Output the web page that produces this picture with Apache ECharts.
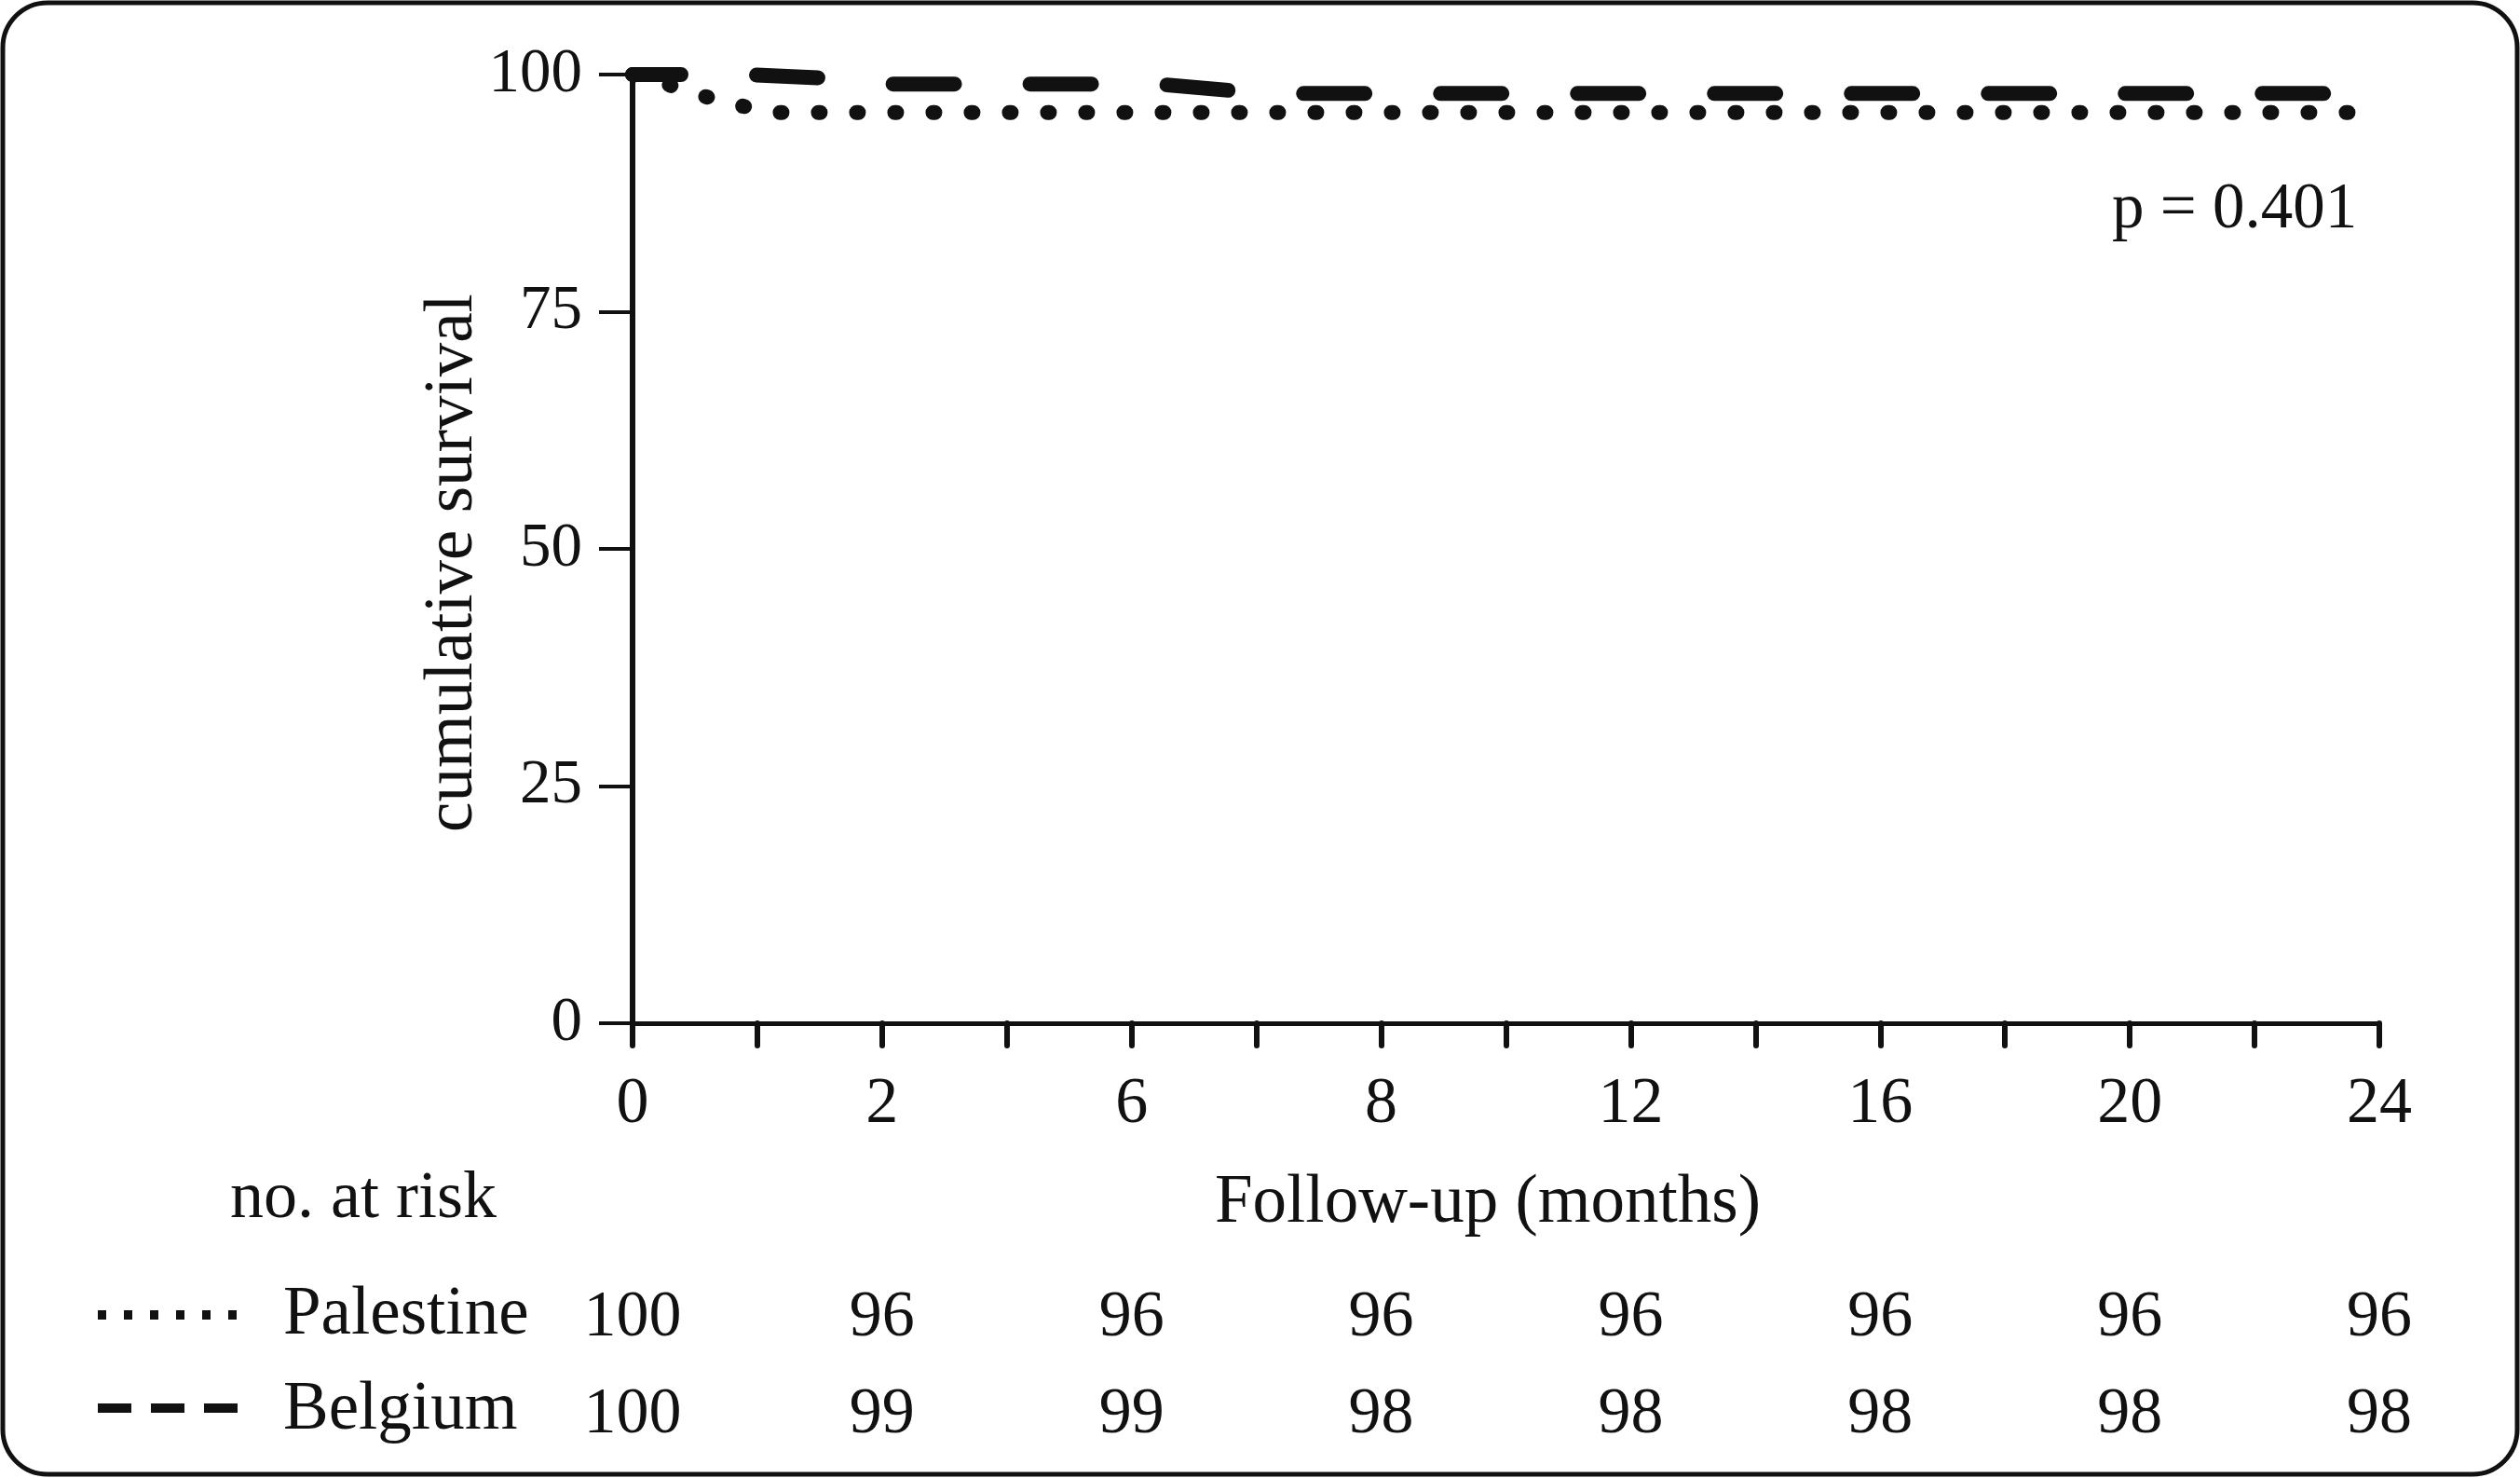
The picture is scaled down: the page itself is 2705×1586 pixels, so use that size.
<!DOCTYPE html>
<html>
<head>
<meta charset="utf-8">
<script src="https://cdn.jsdelivr.net/npm/echarts@6/dist/echarts.min.js"></script>
<style>
  html, body { margin: 0; padding: 0; background: #fff; }
  #main { width: 2705px; height: 1586px; }
</style>
</head>
<body>
<div id="main"></div>
<script>
// x positions are in tick units (15 ticks, labels on every other one)
var xLabels = ['0', '2', '6', '8', '12', '16', '20', '24'];
var yTicks = [0, 25, 50, 75, 100];

var palestineX = [0, 0.27, 0.55, 0.84, 1.11, 14];
var palestineY = [100, 99.0, 97.8, 96.8, 96, 96];
var belgiumX = [0, 0.9, 1.6, 2.05, 4.2, 4.9, 5.3, 14];
var belgiumY = [100, 100, 99.6, 99, 99, 98.2, 98, 98];

var atRiskPalestine = [100, 96, 96, 96, 96, 96, 96, 96];
var atRiskBelgium = [100, 99, 99, 98, 98, 98, 98, 98];

var FONT = 'Liberation Serif';
var INK = '#111';

function pairs(xs, ys) {
	var out = [];
	for (var i = 0; i < xs.length; i++) out.push([xs[i], ys[i]]);
	return out;
}

function majorLabel(arr) {
	return function (value) {
		return value % 2 === 0 ? String(arr[value / 2]) : '';
	};
}

var myChart = echarts.init(document.getElementById('main'));

var option = {
	animation: false,
	backgroundColor: '#fff',
	grid: {
		left: 679,
		top: 80,
		width: 1875,
		height: 1018,
		outerBoundsMode: 'none'
	},
	xAxis: [
		{
			type: 'value',
			min: 0,
			max: 14,
			interval: 1,
			splitLine: { show: false },
			axisLine: { lineStyle: { color: INK, width: 5 } },
			axisTick: { length: 24, lineStyle: { color: INK, width: 6, cap: 'round' } },
			axisLabel: {
				margin: 53,
				color: INK,
				fontFamily: FONT,
				fontSize: 70,
				formatter: majorLabel(xLabels)
			}
		},
		{
			// no. at risk, Palestine row
			type: 'value',
			min: 0,
			max: 14,
			interval: 1,
			position: 'bottom',
			offset: 282,
			splitLine: { show: false },
			axisLine: { show: false },
			axisTick: { show: false },
			axisLabel: {
				margin: 0,
				color: INK,
				fontFamily: FONT,
				fontSize: 70,
				formatter: majorLabel(atRiskPalestine)
			}
		},
		{
			// no. at risk, Belgium row
			type: 'value',
			min: 0,
			max: 14,
			interval: 1,
			position: 'bottom',
			offset: 386,
			splitLine: { show: false },
			axisLine: { show: false },
			axisTick: { show: false },
			axisLabel: {
				margin: 0,
				color: INK,
				fontFamily: FONT,
				fontSize: 70,
				formatter: majorLabel(atRiskBelgium)
			}
		}
	],
	yAxis: {
		type: 'value',
		min: yTicks[0],
		max: yTicks[yTicks.length - 1],
		interval: 25,
		splitLine: { show: false },
		axisLine: { show: true, lineStyle: { color: INK, width: 6 } },
		axisTick: { show: true, length: 36, lineStyle: { color: INK, width: 4 } },
		axisLabel: {
			margin: 54,
			color: INK,
			fontFamily: FONT,
			fontSize: 67
		}
	},
	series: [
		{
			name: 'Palestine',
			type: 'line',
			xAxisIndex: 0,
			showSymbol: false,
			clip: false,
			data: pairs(palestineX, palestineY),
			lineStyle: { color: INK, width: 16, type: [2, 39], cap: 'round', join: 'round' }
		},
		{
			name: 'Belgium',
			type: 'line',
			xAxisIndex: 0,
			showSymbol: false,
			clip: false,
			data: pairs(belgiumX, belgiumY),
			lineStyle: { color: INK, width: 16, type: [66, 81], dashOffset: 14, cap: 'round', join: 'round' }
		}
	],
	graphic: [
		// frame
		{
			type: 'rect',
			shape: { x: 3, y: 3, width: 2699, height: 1579, r: 48 },
			style: { fill: 'none', stroke: INK, lineWidth: 5 },
			silent: true
		},
		{
			type: 'text',
			x: 487,
			y: 604,
			rotation: Math.PI / 2,
			style: { text: 'cumulative survival', fontFamily: FONT, fontSize: 73, fill: INK, align: 'center', verticalAlign: 'middle' }
		},
		{
			type: 'text',
			x: 2267,
			y: 226,
			style: { text: 'p = 0.401', fontFamily: FONT, fontSize: 69, fill: INK, align: 'left', verticalAlign: 'middle' }
		},
		{
			type: 'text',
			x: 1597,
			y: 1292,
			style: { text: 'Follow-up (months)', fontFamily: FONT, fontSize: 73, fill: INK, align: 'center', verticalAlign: 'middle' }
		},
		{
			type: 'text',
			x: 247,
			y: 1287,
			style: { text: 'no. at risk', fontFamily: FONT, fontSize: 72, fill: INK, align: 'left', verticalAlign: 'middle' }
		},
		// legend keys
		{
			type: 'line',
			shape: { x1: 105, y1: 1411, x2: 255, y2: 1411 },
			style: { stroke: INK, lineWidth: 10, lineDash: [9, 19] }
		},
		{
			type: 'text',
			x: 304,
			y: 1412,
			style: { text: 'Palestine', fontFamily: FONT, fontSize: 73, fill: INK, align: 'left', verticalAlign: 'middle' }
		},
		{
			type: 'line',
			shape: { x1: 105, y1: 1511, x2: 255, y2: 1511 },
			style: { stroke: INK, lineWidth: 10, lineDash: [36, 21] }
		},
		{
			type: 'text',
			x: 304,
			y: 1514,
			style: { text: 'Belgium', fontFamily: FONT, fontSize: 73, fill: INK, align: 'left', verticalAlign: 'middle' }
		}
	]
};

myChart.setOption(option);
window.addEventListener('resize', function () { myChart.resize(); });
</script>
</body>
</html>
